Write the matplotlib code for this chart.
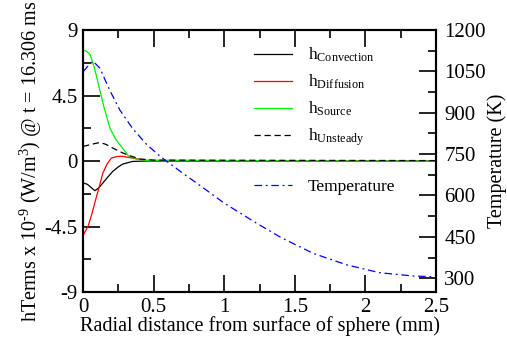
import matplotlib.pyplot as plt
from matplotlib.ticker import MultipleLocator, FuncFormatter

plt.rcParams['font.family'] = ['Liberation Serif', 'DejaVu Serif']
plt.rcParams['mathtext.fontset'] = 'custom'
plt.rcParams['mathtext.rm'] = 'Liberation Serif'
plt.rcParams['mathtext.it'] = 'Liberation Serif:italic'
plt.rcParams['axes.unicode_minus'] = False

# data (x in mm)
x_conv = [0, 0.03, 0.06, 0.083, 0.11, 0.14, 0.175, 0.21, 0.25, 0.28, 0.35, 0.45, 2.5]
h_conv = [-1.51, -1.6, -1.85, -2.04, -1.85, -1.51, -1.1, -0.71, -0.4, -0.21, -0.03, 0.0, 0.0]

x_diff = [0, 0.035, 0.06, 0.095, 0.12, 0.14, 0.17, 0.2, 0.24, 0.28, 0.35, 0.45, 2.5]
h_diff = [-5.1, -4.48, -3.7, -2.43, -1.55, -0.82, -0.2, 0.2, 0.31, 0.32, 0.2, 0.04, 0.0]

x_src = [0, 0.03, 0.05, 0.08, 0.118, 0.15, 0.19, 0.23, 0.26, 0.32, 0.38, 0.45, 2.5]
h_src = [7.63, 7.5, 7.3, 6.4, 4.88, 3.6, 2.26, 1.5, 1.12, 0.36, 0.12, 0.04, 0.0]

x_unst = [0, 0.06, 0.118, 0.16, 0.21, 0.26, 0.31, 0.4, 0.5, 2.5]
h_unst = [1.0, 1.15, 1.27, 1.15, 0.89, 0.65, 0.43, 0.14, 0.06, 0.03]

x_temp = [0, 0.035, 0.07, 0.118, 0.19, 0.26, 0.35, 0.45, 0.55, 0.7, 0.85, 1.0,
          1.23, 1.4, 1.63, 1.87, 2.1, 2.34, 2.5]
temp = [1049, 1070, 1087, 1062, 980, 910, 843, 785, 740, 683, 628, 572,
        499, 448, 390, 348, 320, 308, 305]

fig = plt.figure(figsize=(5.07, 3.47), dpi=100)
ax = fig.add_axes([0.164, 0.1585, 0.696, 0.755])
ax2 = ax.twinx()

l1, = ax.plot(x_conv, h_conv, color='k', lw=0.9)
l2, = ax.plot(x_diff, h_diff, color='#ff0000', lw=0.9)
l3, = ax.plot(x_src, h_src, color='#00ee00', lw=0.9)
l4, = ax.plot(x_unst, h_unst, color='k', lw=0.9, ls=(0, (5, 3)))
l5, = ax2.plot(x_temp, temp, color='#0000ff', lw=0.9, ls=(0, (6, 3, 1.5, 3)))

ax.set_xlim(0, 2.5)
ax.set_ylim(-9, 9)
ax2.set_ylim(250, 1200)

fmt = FuncFormatter(lambda v, p: '%g' % v)
ax.xaxis.set_major_locator(MultipleLocator(0.5))
ax.xaxis.set_minor_locator(MultipleLocator(0.25))
ax.yaxis.set_major_locator(MultipleLocator(4.5))
ax.yaxis.set_minor_locator(MultipleLocator(2.25))
ax.xaxis.set_major_formatter(fmt)
ax.yaxis.set_major_formatter(fmt)
ax2.set_yticks([300, 450, 600, 750, 900, 1050, 1200])
ax2.yaxis.set_minor_locator(MultipleLocator(75))

ax.tick_params(which='both', direction='in', top=True, labelsize=15, width=1.2, pad=4)
ax.tick_params(which='major', length=12)
ax.tick_params(which='minor', length=6)
ax2.tick_params(which='both', direction='in', labelsize=15, width=1.2, pad=6)
ax2.tick_params(which='major', length=12)
ax2.tick_params(which='minor', length=6)
for a in (ax, ax2):
    for s in a.spines.values():
        s.set_linewidth(1.5)

ax.set_xlabel('Radial distance from surface of sphere (mm)', fontsize=14.5, labelpad=0)
ax.set_ylabel(r'hTerms x 10$^{\text{-}9}$ (W/m$^{3}$) @ t = 16.306 ms', fontsize=14.5, labelpad=0)
ax2.set_ylabel('Temperature (K)', fontsize=14.5, labelpad=1)

leg1 = ax.legend([l1, l2, l3, l4],
                 [r'h$_{\mathrm{Convection}}$', r'h$_{\mathrm{Diffusion}}$',
                  r'h$_{\mathrm{Source}}$', r'h$_{\mathrm{Unsteady}}$'],
                 loc='upper left', bbox_to_anchor=(0.44, 1.0), frameon=False,
                 fontsize=12.5, handlelength=2.2, handletextpad=0.9, labelspacing=0.5)
ax2.legend([l5], ['Temperature'], loc='center left', bbox_to_anchor=(0.44, 0.40),
           frameon=False, fontsize=12.5, handlelength=2.2, handletextpad=0.9)

fig.savefig('out.png', dpi=100)
